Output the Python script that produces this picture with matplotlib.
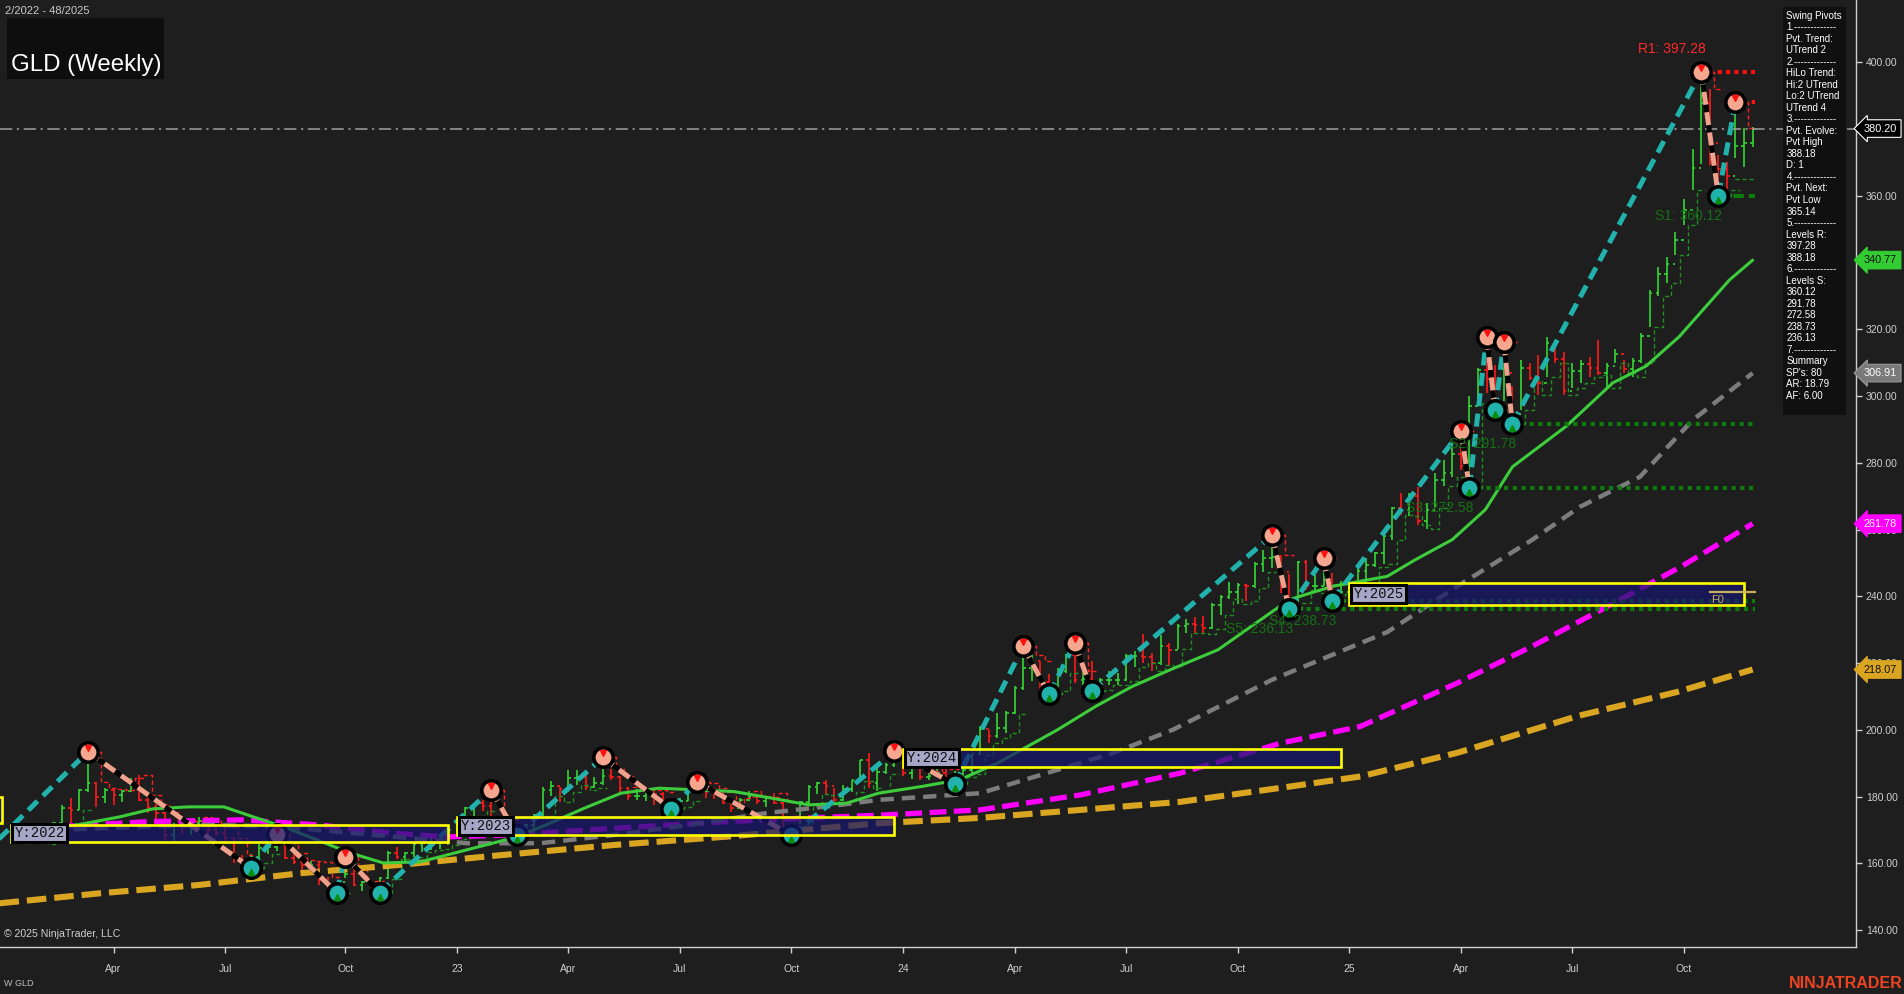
import numpy as np
import pandas as pd
import matplotlib
matplotlib.use("Agg")
import matplotlib.pyplot as plt
import matplotlib.dates as mdates
from matplotlib.patches import Rectangle
from matplotlib.transforms import offset_copy

W, H = 1904, 994
BG = '#1e1e1e'
plt.rcParams['font.family'] = ['Liberation Sans', 'DejaVu Sans']

# weekly GLD bars, dated on Friday, week 2/2022 .. 48/2025
high_22 = [170.0, 171.5, 171.8, 168.5, 172.5, 177.5, 179.6, 182.3, 193.4, 184.5, 182.5, 182.3, 182.0,
           185.7, 186.4, 180.5, 177.8, 175.5, 172.2, 173.2, 172.8, 174.0, 172.9, 171.2, 170.8, 167.6,
           162.6, 162.7, 165.8, 167.0, 168.8, 166.2, 163.0, 160.9, 160.8, 160.3, 156.0, 154.5, 162.0,
           158.5, 154.8, 154.6, 155.8, 163.6, 164.8, 163.5, 166.5, 167.4, 168.2, 168.3, 169.2]
low_22 = [166.0, 167.8, 166.0, 165.9, 167.2, 171.5, 172.0, 176.0, 181.5, 176.8, 178.0, 177.6, 178.5,
          181.3, 178.8, 175.2, 172.5, 167.0, 166.6, 168.8, 168.4, 168.5, 167.5, 168.3, 166.4, 160.2,
          158.7, 158.6, 160.2, 162.8, 163.8, 161.3, 159.8, 157.6, 157.4, 153.6, 151.9, 151.2, 155.5,
          153.1, 151.6, 151.7, 151.2, 155.2, 161.2, 160.4, 162.0, 163.4, 164.0, 164.4, 165.6]
close_22 = [169.2, 171.0, 166.6, 167.5, 172.0, 176.5, 176.1, 182.0, 184.1, 179.9, 181.9, 180.4, 181.6,
            183.8, 179.0, 176.9, 175.0, 168.5, 171.1, 171.0, 172.0, 172.7, 170.1, 169.0, 167.5, 161.3,
            159.5, 161.8, 164.7, 164.9, 166.6, 161.6, 160.4, 159.6, 159.6, 155.0, 153.4, 154.3, 156.7,
            153.4, 154.5, 152.0, 155.6, 163.2, 161.8, 163.0, 165.9, 166.0, 166.0, 166.9, 168.5]

high_23 = [173.5, 176.9, 178.1, 179.0, 182.0, 174.2, 173.4, 170.8, 171.9, 174.8, 183.0, 184.8, 183.0,
           188.0, 188.0, 186.4, 185.8, 191.7, 188.2, 186.2, 183.0, 182.3, 182.2, 182.0, 181.3, 178.9,
           179.6, 182.9, 184.4, 184.0, 182.5, 181.3, 178.3, 179.7, 181.7, 180.2, 179.9, 181.0, 178.5,
           171.3, 178.6, 183.5, 184.4, 185.0, 182.5, 183.4, 185.0, 190.9, 193.0, 189.4, 190.1, 193.5]
low_23 = [167.3, 171.3, 174.2, 175.8, 171.9, 170.8, 169.0, 168.5, 168.6, 168.6, 174.2, 180.2, 178.5,
          181.5, 183.5, 182.0, 182.5, 183.4, 185.0, 180.4, 179.0, 179.1, 178.7, 177.4, 177.5, 176.3,
          176.8, 178.6, 181.2, 179.6, 179.4, 177.8, 175.4, 176.6, 178.6, 177.8, 176.8, 177.8, 170.5,
          168.4, 171.7, 177.3, 180.8, 180.6, 178.2, 178.6, 181.3, 184.7, 182.6, 181.8, 186.7, 188.9]
close_23 = [172.3, 176.7, 178.0, 177.2, 172.3, 172.7, 170.0, 168.9, 171.5, 174.4, 182.0, 183.3, 182.3,
            185.5, 185.8, 183.0, 184.2, 186.3, 186.0, 182.5, 180.2, 180.2, 181.1, 180.8, 178.7, 177.5,
            178.8, 182.1, 182.9, 181.4, 180.8, 178.2, 176.6, 178.9, 179.8, 178.6, 179.5, 178.1, 171.0,
            170.8, 178.4, 182.8, 184.1, 183.3, 178.9, 182.2, 184.9, 190.8, 184.0, 187.3, 189.4, 190.9]

high_24 = [191.3, 189.0, 189.2, 187.6, 189.9, 188.3, 187.6, 188.6, 192.8, 201.0, 200.0, 205.0, 205.5,
           213.0, 225.0, 222.5, 220.5, 216.7, 218.5, 222.8, 225.9, 217.5, 220.5, 215.4, 217.7, 216.9,
           222.7, 223.6, 228.8, 223.0, 228.5, 226.0, 231.6, 233.3, 233.7, 234.0, 237.9, 240.4, 244.3,
           244.1, 243.7, 250.2, 254.0, 258.3, 252.5, 246.8, 250.6, 251.0, 246.3, 251.4, 247.0, 244.5]
low_24 = [186.3, 185.3, 184.9, 185.0, 185.8, 185.5, 183.7, 185.8, 186.9, 192.4, 196.0, 197.5, 199.0,
          204.7, 211.8, 214.5, 210.8, 210.6, 211.6, 216.9, 214.0, 213.5, 211.7, 211.8, 213.5, 213.4,
          214.6, 218.7, 220.0, 217.5, 219.5, 219.0, 224.2, 228.9, 229.0, 228.6, 230.1, 234.5, 239.2,
          237.8, 238.6, 242.5, 247.3, 248.5, 241.0, 236.13, 238.1, 241.9, 241.1, 243.1, 238.73, 240.8]
close_24 = [187.1, 188.5, 186.0, 186.1, 187.2, 186.0, 186.1, 187.8, 192.7, 200.1, 198.0, 200.5, 205.0,
            212.6, 218.5, 220.7, 214.3, 211.8, 217.7, 222.4, 214.9, 215.3, 212.7, 214.8, 214.9, 215.0,
            222.0, 222.1, 221.7, 219.9, 225.0, 224.0, 231.1, 231.7, 231.3, 230.4, 237.5, 239.9, 241.3,
            243.3, 243.1, 249.8, 251.6, 251.7, 247.2, 236.8, 250.2, 243.0, 243.0, 244.9, 240.7, 241.4]

high_25 = [243.6, 248.6, 251.6, 253.3, 258.2, 266.9, 271.0, 270.9, 272.9, 268.0, 276.9, 280.9, 285.9,
           289.6, 300.0, 308.3, 317.8, 309.3, 316.1, 303.0, 310.8, 309.8, 312.3, 317.8, 314.8, 313.3,
           310.0, 310.8, 311.8, 316.8, 310.0, 314.1, 310.8, 311.3, 318.8, 331.8, 338.8, 341.8, 349.3,
           359.0, 374.0, 397.28, 392.0, 372.3, 370.3, 388.18, 380.4, 380.8]
low_25 = [239.5, 241.0, 244.0, 248.8, 249.8, 257.0, 264.5, 264.1, 261.4, 260.3, 266.5, 273.1, 275.9,
          277.9, 272.58, 298.0, 300.9, 295.7, 298.5, 291.78, 295.8, 304.8, 300.3, 305.8, 309.9, 300.3,
          302.4, 303.8, 305.8, 306.3, 302.4, 310.0, 306.8, 305.8, 309.8, 320.8, 330.0, 334.0, 342.3,
          351.3, 361.8, 369.5, 369.3, 360.12, 361.8, 371.4, 368.7, 374.8]
close_25 = [243.1, 247.7, 249.4, 253.0, 258.0, 266.5, 265.9, 270.0, 262.5, 266.0, 275.0, 276.9, 282.8,
            279.0, 297.0, 307.7, 305.0, 298.0, 307.0, 294.6, 308.5, 305.5, 304.0, 316.0, 311.0, 301.6,
            307.5, 309.5, 308.5, 306.8, 309.0, 312.5, 308.0, 310.5, 318.0, 331.0, 336.6, 339.5, 346.7,
            355.8, 368.5, 388.0, 376.0, 368.1, 366.0, 375.0, 376.0, 380.2]
first_open = 168.6

# swing pivots (first one sits before the visible range)
piv_dates = ['2021-12-17', '2022-03-11', '2022-07-22', '2022-08-12', '2022-09-30', '2022-10-07',
             '2022-11-04', '2023-02-03', '2023-02-24', '2023-05-05', '2023-06-30', '2023-07-21',
             '2023-10-06', '2023-12-29', '2024-02-16', '2024-04-12', '2024-05-03', '2024-05-24',
             '2024-06-07', '2024-11-01', '2024-11-15', '2024-12-13', '2024-12-20', '2025-04-04',
             '2025-04-11', '2025-04-25', '2025-05-02', '2025-05-09', '2025-05-16', '2025-10-17',
             '2025-10-31', '2025-11-14']
piv_prices = [163.1, 193.4, 158.6, 168.8, 151.2, 162.0, 151.2, 182.0, 168.5, 191.7, 176.3, 184.4,
              168.4, 193.5, 183.7, 225.0, 210.6, 225.9, 211.7, 258.3, 236.13, 251.4, 238.73, 289.6,
              272.58, 317.8, 295.7, 316.1, 291.78, 397.28, 360.12, 388.18]
piv_types = 'LHLHLHLHLHLHLHLHLHLHLHLHLHLHLHLH'

# moving averages
green_dates = ['2022-01-14', '2022-02-04', '2022-02-22', '2022-04-06', '2022-05-03', '2022-06-01',
               '2022-06-30', '2022-07-24', '2022-08-18', '2022-09-14', '2022-10-11', '2022-11-07',
               '2022-12-07', '2023-01-14', '2023-02-21', '2023-03-20', '2023-04-20', '2023-05-20',
               '2023-06-20', '2023-07-20', '2023-08-20', '2023-09-20', '2023-10-20', '2023-11-20',
               '2023-12-16', '2024-01-20', '2024-02-20', '2024-03-22', '2024-05-10', '2024-06-10',
               '2024-07-10', '2024-08-10', '2024-09-18', '2024-10-15', '2024-11-15', '2024-12-20',
               '2025-02-03', '2025-02-25', '2025-03-28', '2025-04-24', '2025-05-16', '2025-06-29',
               '2025-08-06', '2025-09-02', '2025-09-29', '2025-11-09', '2025-11-28']
green_vals = [169.0, 170.0, 170.9, 173.9, 176.3, 176.9, 176.9, 173.9, 170.9, 167.0, 163.1, 160.1,
              160.4, 164.0, 167.6, 171.5, 176.5, 181.0, 182.5, 182.0, 181.5, 179.5, 177.5, 178.0,
              181.0, 183.0, 185.0, 190.0, 200.0, 207.0, 213.0, 218.0, 224.0, 231.0, 239.0, 243.0,
              246.0, 250.8, 257.0, 266.0, 278.8, 291.0, 304.0, 309.0, 317.8, 334.8, 340.77]

gray_dates = ['2022-02-10', '2022-04-15', '2022-06-15', '2022-08-15', '2022-10-15', '2022-12-15',
              '2023-01-14', '2023-03-15', '2023-05-15', '2023-07-15', '2023-09-15', '2023-11-15',
              '2023-12-16', '2024-03-08', '2024-05-01', '2024-06-24', '2024-08-12', '2024-11-01',
              '2025-02-03', '2025-04-01', '2025-06-01', '2025-07-10', '2025-08-28', '2025-10-10',
              '2025-11-28']
gray_vals = [170.0, 170.8, 171.5, 171.0, 169.0, 167.0, 166.0, 166.0, 168.5, 171.5, 175.0, 177.5,
             179.0, 181.0, 187.0, 193.0, 200.0, 215.0, 229.3, 243.0, 256.9, 266.8, 275.8, 292.8, 306.91]

magenta_dates = ['2022-02-14', '2022-05-01', '2022-07-15', '2022-09-15', '2022-11-15', '2022-12-29',
                 '2023-02-20', '2023-05-15', '2023-08-15', '2023-10-15', '2023-12-16', '2024-03-08',
                 '2024-05-29', '2024-08-18', '2024-11-08', '2025-01-12', '2025-04-01', '2025-06-01',
                 '2025-08-07', '2025-10-01', '2025-11-28']
magenta_vals = [171.0, 172.5, 173.0, 171.5, 169.0, 167.9, 168.5, 170.5, 172.5, 173.5, 174.4, 176.0,
                180.5, 187.0, 196.0, 201.0, 214.0, 225.0, 238.0, 249.0, 261.78]

orange_dates = ['2021-12-29', '2022-03-21', '2022-06-10', '2022-08-31', '2022-11-20', '2023-02-10',
                '2023-05-15', '2023-08-15', '2023-12-16', '2024-03-08', '2024-05-29', '2024-08-18',
                '2024-11-08', '2025-01-12', '2025-04-01', '2025-07-09', '2025-09-27', '2025-11-28']
orange_vals = [148.0, 151.0, 153.5, 157.0, 159.5, 162.4, 165.5, 168.0, 172.0, 173.6, 176.0, 178.4,
               182.6, 186.0, 193.1, 204.2, 211.3, 218.07]

# yearly range boxes
yr_labels = ['Y:2021', 'Y:2022', 'Y:2023', 'Y:2024', 'Y:2025']
yr_start = ['2021-01-01', '2022-01-07', '2023-01-06', '2024-01-05', '2025-01-03']
yr_end = ['2021-12-31', '2022-12-30', '2023-12-29', '2024-12-27', '2025-11-21']
yr_top = [179.9, 171.5, 173.9, 194.3, 244.0]
yr_bot = [172.1, 166.4, 168.6, 188.9, 237.4]
f0_price = 241.4

# pivot levels on the right
lvl_prices = [397.28, 388.18, 360.12, 291.78, 272.58, 238.73, 236.13]
lvl_start = ['2025-10-17', '2025-11-14', '2025-10-31', '2025-05-16', '2025-04-11', '2024-12-20', '2024-11-15']
lvl_names = ['R1', '', 'S1', 'S2', 'S3', 'S4', 'S5']
next_pivot = 365.14
last_price = 380.20

tag_prices = [380.20, 340.77, 306.91, 261.78, 218.07]
tag_face = ['#000000', '#33cc33', '#7a7a7a', '#ff00ff', '#daa520']
tag_text = ['white', '#101010', 'white', 'white', '#101010']
tag_edge = ['white', '#33cc33', '#9a9a9a', '#ff00ff', '#daa520']

panel_lines = ['Swing Pivots', '1.-------------', 'Pvt. Trend:', 'UTrend 2', '2.-------------',
               'HiLo Trend:', 'Hi:2 UTrend', 'Lo:2 UTrend', 'UTrend 4', '3.-------------',
               'Pvt. Evolve:', 'Pvt High', '388.18', 'D: 1', '4.-------------', 'Pvt. Next:',
               'Pvt Low', '365.14', '5.-------------', 'Levels R:', '397.28', '388.18',
               '6.-------------', 'Levels S:', '360.12', '291.78', '272.58', '238.73', '236.13',
               '7.-------------', 'Summary', "SP's: 80", 'AR: 18.79', 'AF: 6.00']

# ---------------------------------------------------------------------------
dates = pd.date_range('2022-01-14', '2025-11-28', freq='W-FRI')
highs = np.array(high_22 + high_23 + high_24 + high_25)
lows = np.array(low_22 + low_23 + low_24 + low_25)
closes = np.array(close_22 + close_23 + close_24 + close_25)
opens = np.r_[first_open, closes[:-1]]
xd = mdates.date2num(dates.to_pydatetime())


def dnum(lst):
    return mdates.date2num(pd.to_datetime(lst).to_pydatetime())


fig = plt.figure(figsize=(W / 100, H / 100), dpi=100, facecolor=BG)
ax = fig.add_axes([0, 1 - 947.3 / H, 1856 / W, 947.3 / H], facecolor=BG)

px_day = 1.226  # pixels per day in the reference
x_ref = mdates.date2num(pd.Timestamp('2022-04-01').to_pydatetime())
ax.set_xlim(x_ref - 113.5 / px_day, x_ref + (1856 - 113.5) / px_day)
ax.set_ylim(134.81, 418.73)

# bars
up = closes >= opens
bar_col = np.where(up, '#33d633', '#ff1a1a')
tick_w = 2.6 / px_day
ax.vlines(xd, lows, highs, colors=bar_col, lw=1.2, zorder=2)
ax.hlines(opens, xd - tick_w, xd, colors=bar_col, lw=1.2, zorder=2)
ax.hlines(closes, xd, xd + tick_w, colors=bar_col, lw=1.2, zorder=2)

# trailing step lines following the swing legs
pd_num = dnum(piv_dates)
sup = np.full(len(xd), np.nan)
res = np.full(len(xd), np.nan)
for i in range(1, len(xd)):
    k = np.searchsorted(pd_num, xd[i]) - 1
    if piv_types[k] == 'L':
        sup[i] = lows[i - 1]
    else:
        res[i] = highs[i - 1]
ax.plot(xd, sup, color='#1f8f1f', lw=1.0, ls=(0, (3, 2)), drawstyle='steps-mid', zorder=2.5)
ax.plot(xd, res, color='#ff2020', lw=1.0, ls=(0, (3, 2)), drawstyle='steps-mid', zorder=2.5)

# moving averages
ax.plot(dnum(orange_dates), orange_vals, color='#daa520', lw=4.4, dashes=(3.2, 1.3),
        dash_capstyle='butt', zorder=3)
ax.plot(dnum(magenta_dates), magenta_vals, color='#ff00ff', lw=3.8, dashes=(3.2, 1.4),
        dash_capstyle='butt', zorder=3.1)
ax.plot(dnum(gray_dates), gray_vals, color='#7c7c7c', lw=3.2, dashes=(3.0, 1.8),
        dash_capstyle='butt', zorder=3.2)
ax.plot(dnum(green_dates), green_vals, color='#3ccc3c', lw=2.2, zorder=3.3, solid_capstyle='round')

# zigzag between pivots
for i in range(len(pd_num) - 1):
    xs = [pd_num[i], pd_num[i + 1]]
    ys = [piv_prices[i], piv_prices[i + 1]]
    if piv_types[i] == 'L':
        ax.plot(xs, ys, color='#22b2ac', lw=3.6, dashes=(2.6, 1.5), dash_capstyle='butt', zorder=6)
    else:
        ax.plot(xs, ys, color='black', lw=3.6, zorder=6)
        ax.plot(xs, ys, color='#f0a28c', lw=3.6, dashes=(2.6, 1.5), dash_capstyle='butt', zorder=6.1)

# pivot level lines
lvl_end = mdates.date2num(pd.Timestamp('2025-11-30').to_pydatetime())
ls_num = dnum(lvl_start)
for p, s, n in zip(lvl_prices, ls_num, lvl_names):
    if p > last_price:
        col = '#ff1010'
        style = (0, (1, 1)) if n else (0, (2.5, 1.5))
    else:
        col = '#0c7d0c'
        style = (0, (2.5, 1.2)) if n == 'S1' else (0, (1, 1.1))
    ax.plot([s, lvl_end], [p, p], color=col, lw=3.0, ls=style, dash_capstyle='butt', zorder=5)
    if n:
        up_lbl = p > last_price
        ax.annotate(f'{n}: {p:.2f}', xy=(s, p), xytext=(-63, 23 if up_lbl else -20),
                    textcoords='offset pixels', ha='left', va='center', fontsize=10,
                    color='#ff2a2a' if up_lbl else '#157015', zorder=9)
ax.plot([pd_num[-1], lvl_end + 1], [next_pivot, next_pivot], color='#1f8f1f', lw=1.0,
        ls=(0, (3, 2)), zorder=5)

# last price line
ax.axhline(last_price, color='#a0a0a0', lw=1.1, ls=(0, (8, 3, 1.5, 3)), zorder=4)

# pivot markers
for x, p, t in zip(pd_num[1:], piv_prices[1:], piv_types[1:]):
    fill = '#f4a68e' if t == 'H' else '#22b2ac'
    ax.plot(x, p, 'o', ms=14, mfc=fill, mec='black', mew=2.6, zorder=8)
    if t == 'H':
        tr = offset_copy(ax.transData, fig=fig, x=0, y=4, units='dots')
        ax.plot(x, p, 'v', ms=5, color='#ff1010', transform=tr, zorder=8.5)
    else:
        tr = offset_copy(ax.transData, fig=fig, x=0, y=-4, units='dots')
        ax.plot(x, p, '^', ms=5, color='#0c8c0c', transform=tr, zorder=8.5)

# yearly boxes
ys_num, ye_num = dnum(yr_start), dnum(yr_end)
for lab, x0, x1, top, bot in zip(yr_labels, ys_num, ye_num, yr_top, yr_bot):
    ax.add_patch(Rectangle((x0, bot), x1 - x0, top - bot, fc=(23 / 255, 23 / 255, 108 / 255),
                           alpha=0.72, ec='none', zorder=10))
    ax.add_patch(Rectangle((x0, bot), x1 - x0, top - bot, fill=False, ec='#ffff00', lw=1.9, zorder=10.5))
    ax.annotate(lab, xy=(x0, (top + bot) / 2), xytext=(4, 0), textcoords='offset pixels',
                ha='left', va='center', family='Liberation Mono', fontsize=10, color='#111111',
                bbox=dict(boxstyle='square,pad=0.15', fc='#a6a6c6', ec='black', lw=2.2),
                zorder=11)
f0_x0 = mdates.date2num(pd.Timestamp('2025-10-24').to_pydatetime())
ax.plot([f0_x0, lvl_end], [f0_price, f0_price], color='#c8b060', lw=1.6, zorder=10.6)
ax.annotate('F0', xy=(f0_x0, f0_price), xytext=(1, -8), textcoords='offset pixels', ha='left',
            va='center', fontsize=8, color='#c8b060', zorder=10.6)

# axes styling
for s in ['left', 'top']:
    ax.spines[s].set_visible(False)
for s in ['right', 'bottom']:
    ax.spines[s].set_color('#cfcfcf')
    ax.spines[s].set_linewidth(1.0)
ax.yaxis.tick_right()
ax.set_yticks(np.arange(140, 401, 20))
ax.yaxis.set_major_formatter(matplotlib.ticker.FormatStrFormatter('%.2f'))
ax.tick_params(axis='y', colors='#cfcfcf', labelsize=7.5, length=4, width=1, pad=3)

tick_pos, tick_lab = [], []
for i in range(1, len(dates)):
    if dates[i].month in (1, 4, 7, 10) and dates[i].month != dates[i - 1].month:
        tick_pos.append(xd[i])
        tick_lab.append(dates[i].strftime('%y') if dates[i].month == 1 else dates[i].strftime('%b'))
ax.set_xticks(tick_pos)
ax.set_xticklabels(tick_lab)
ax.tick_params(axis='x', colors='#cfcfcf', labelsize=7.5, length=4, width=1, pad=8)

# price tags on the axis
for p, fc, tc, ec in zip(tag_prices, tag_face, tag_text, tag_edge):
    ax.annotate(f'{p:.2f}', xy=(1.0, p), xycoords=('axes fraction', 'data'), xytext=(8, 0),
                textcoords='offset pixels', ha='left', va='center', fontsize=7.8, color=tc,
                bbox=dict(boxstyle='larrow,pad=0.35', fc=fc, ec=ec, lw=0.8),
                annotation_clip=False, zorder=20)


def fx(px):
    return px / W


def fy(py):
    return 1 - py / H


# info panel
fig.patches.append(Rectangle((fx(1782.7), fy(415)), (1846 - 1782.7) / W, (415 - 7) / H,
                             transform=fig.transFigure, fc='#101010', ec='none', zorder=30))
for i, line in enumerate(panel_lines):
    fig.text(fx(1786.5), fy(15.7 + i * 11.52), line, ha='left', va='center', fontsize=7,
             color='white', zorder=31)

# title and captions
fig.patches.append(Rectangle((fx(7), fy(79)), 157 / W, 61 / H, transform=fig.transFigure,
                             fc='#0e0e0e', ec='none', zorder=30))
fig.text(fx(11), fy(70.5), 'GLD (Weekly)', ha='left', va='baseline', fontsize=17.3,
         color='white', zorder=31)
fig.text(fx(5), fy(11.3), '2/2022 - 48/2025', ha='left', va='center', fontsize=8, color='#c8c8c8')
fig.text(fx(4), fy(934), '\u00a9 2025 NinjaTrader, LLC', ha='left', va='center', fontsize=7.6,
         color='#d0d0d0')
fig.text(fx(4), fy(984), 'W GLD', ha='left', va='center', fontsize=6.5, color='#c0c0c0')
fig.text(fx(1903), fy(983), 'NINJATRADER', ha='right', va='center', fontsize=11.5,
         fontweight='bold', color='#ee4422')

fig.savefig('out.png', dpi=100, facecolor=BG)
